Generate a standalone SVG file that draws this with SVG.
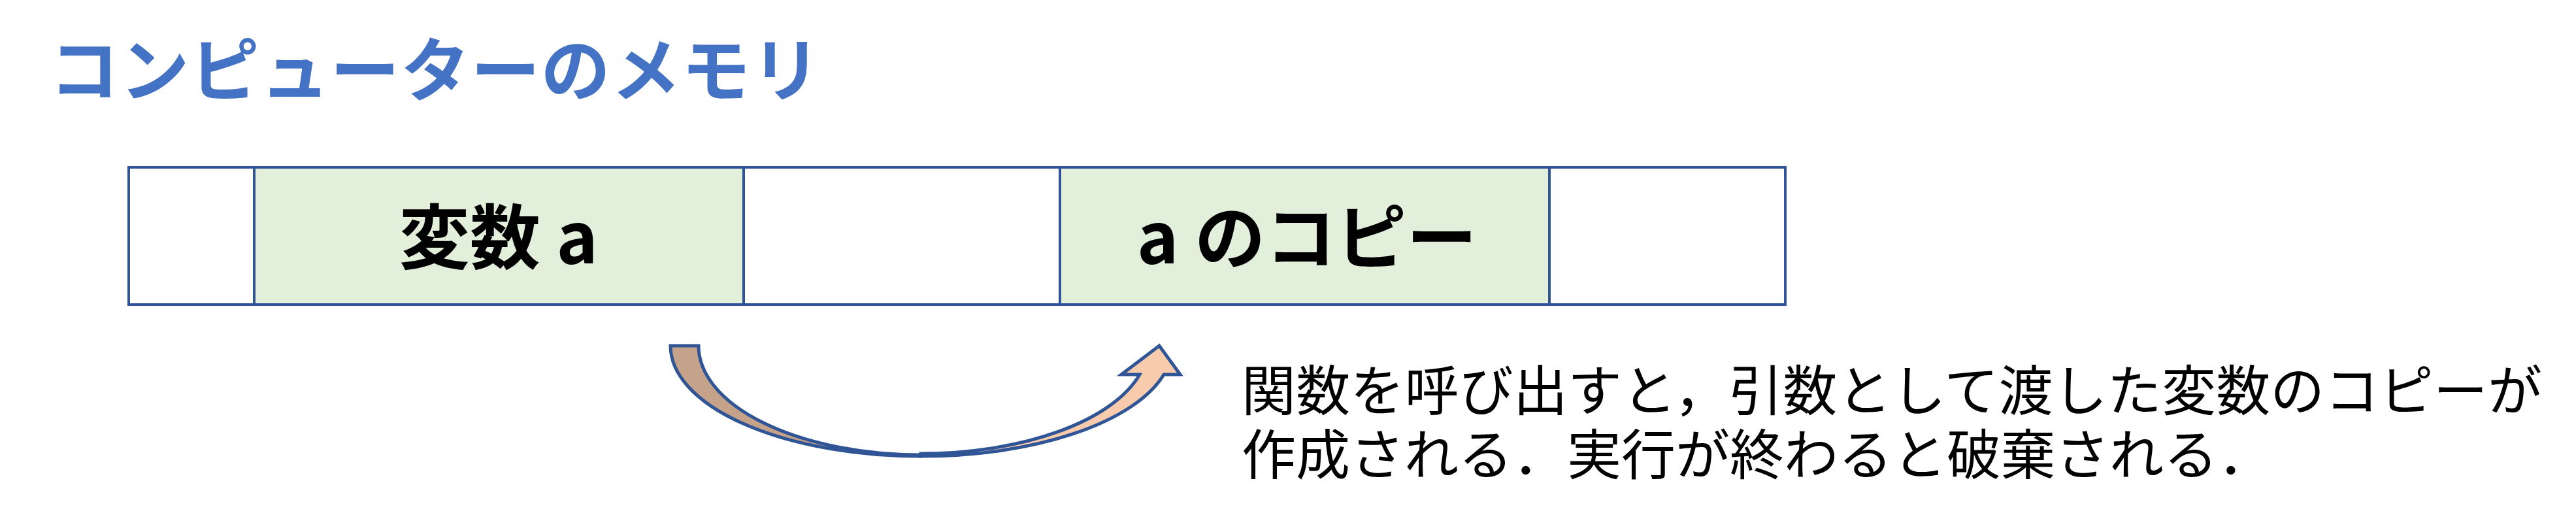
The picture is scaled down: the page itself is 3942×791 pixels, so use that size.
<svg xmlns="http://www.w3.org/2000/svg" width="3942" height="791" viewBox="0 0 3942 791">
<style>
.cell{stroke:#2F5597;stroke-width:4}
.g{fill:#E2EFDA}
.w{fill:#FFFFFF}
.lbl{font-family:"Noto Sans CJK JP","Liberation Sans",sans-serif;font-weight:bold;font-size:108px;fill:#000}
.title{font-family:"Noto Sans CJK JP","Liberation Sans",sans-serif;font-weight:bold;font-size:106px;fill:#4472C4}
.note{font-family:"Noto Sans CJK JP","Liberation Sans",sans-serif;font-size:83px;fill:#000}
.arr{stroke:#2F5597;stroke-width:5;stroke-linejoin:miter}
</style>
<rect width="3942" height="791" fill="#FFFFFF"/>
<g id="title"><text class="title" x="76" y="146" textLength="1180" lengthAdjust="spacing">コンピューターのメモリ</text></g>
<g id="cell0"><rect class="cell w" x="197" y="256" width="192" height="210"/></g>
<g id="cell1"><rect class="cell g" x="389" y="256" width="749" height="210"/><text class="lbl" x="763" y="403" text-anchor="middle">変数 a</text></g>
<g id="cell2"><rect class="cell w" x="1138" y="256" width="484" height="210"/></g>
<g id="cell3"><rect class="cell g" x="1622" y="256" width="749" height="210"/><text class="lbl" x="2000" y="403" text-anchor="middle">a のコピー</text></g>
<g id="cell4"><rect class="cell w" x="2371" y="256" width="361" height="210"/></g>
<g id="connectors">
<path class="arr" fill="#F8CBAD" d="M1409,698 A383,169 0 0 0 1781,573 L1806,573 L1774,529 L1716,573 L1744,573 A347,165 0 0 1 1409,694 Z"/>
<path class="arr" fill="#C5A28A" d="M1026,529 L1069,529 A340,167 0 0 0 1409,696 L1409,698 A383,169 0 0 1 1026,529 Z"/>
</g>
<g id="note">
<text class="note" x="1900" y="628" textLength="1990" lengthAdjust="spacing">関数を呼び出すと，引数として渡した変数のコピーが</text>
<text class="note" x="1900" y="726" textLength="1577" lengthAdjust="spacing">作成される．実行が終わると破棄される．</text>
</g>
</svg>
